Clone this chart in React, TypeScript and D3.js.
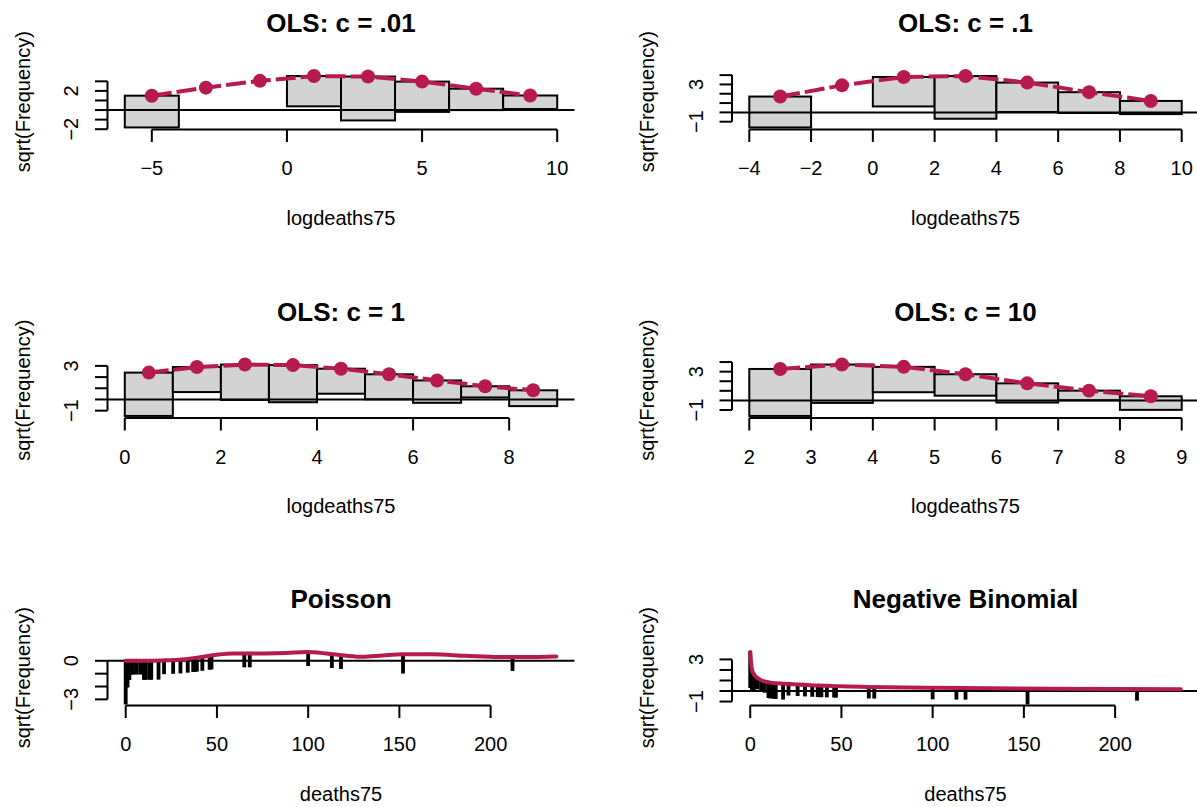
import React from "react";
import * as d3 from "d3";

// ---------- data ----------
// OLS panels: bin breaks, expected sqrt(frequency), observed frequency
const ols01Breaks = [-6, -4, -2, 0, 2, 4, 6, 8, 10];
const ols01Expected = [1.5, 2.34, 3.05, 3.55, 3.5, 2.97, 2.23, 1.52];
const ols01Observed = [11, 0, 0, 10, 21, 10, 5, 2];

const ols1Breaks = [-4, -2, 0, 2, 4, 6, 8, 10];
const ols1Expected = [1.7, 2.9, 3.8, 3.9, 3.2, 2.17, 1.23];
const ols1Observed = [11, 0, 10, 21, 10, 5, 2];

const olsOneBreaks = [0, 1, 2, 3, 4, 5, 6, 7, 8, 9];
const olsOneExpected = [2.4, 2.9, 3.12, 3.07, 2.75, 2.25, 1.7, 1.18, 0.82];
const olsOneObserved = [15, 5, 10, 11, 5, 5, 4, 1, 2];

const ols10Breaks = [2, 3, 4, 5, 6, 7, 8, 9];
const ols10Expected = [3.28, 3.74, 3.5, 2.73, 1.78, 1.02, 0.43];
const ols10Observed = [24, 16, 7, 5, 4, 1, 2];

// count panels: observed deaths75 values and their frequencies
const countValues = [0, 1, 2, 3, 4, 6, 8, 10, 11, 13, 14, 18, 21, 26, 30, 34, 37, 38, 39, 42, 46, 47, 65, 68, 100, 113, 118, 152, 212];
const countObserved = [11, 4, 2, 1, 1, 1, 1, 2, 2, 2, 2, 2, 1, 1, 1, 1, 1, 1, 1, 1, 1, 1, 1, 1, 1, 1, 1, 2, 1];
const countMax = 236;

// expected sqrt(frequency) curves, read at selected counts
const poisCurveX = [0, 10, 20, 31, 40, 50, 59, 77, 88, 99, 110, 121, 130, 141, 152, 168, 186, 205, 219, 236];
const poisCurveY = [0, 0.01, 0.03, 0.1, 0.26, 0.47, 0.57, 0.57, 0.6, 0.68, 0.57, 0.39, 0.31, 0.42, 0.5, 0.5, 0.39, 0.29, 0.29, 0.34];

const nbCurveX = [0, 1, 2, 3, 6, 11, 19, 37, 64, 101, 146, 201, 236];
const nbCurveY = [3.7, 2.0, 1.6, 1.38, 1.02, 0.8, 0.68, 0.52, 0.39, 0.3, 0.24, 0.19, 0.17];

// axis ticks
const ticks01X = [-5, 0, 5, 10];
const ticks1X = [-4, -2, 0, 2, 4, 6, 8, 10];
const ticksOneX = [0, 2, 4, 6, 8];
const ticks10X = [2, 3, 4, 5, 6, 7, 8, 9];
const ticksCountX = [0, 50, 100, 150, 200];

const ticks01Y = [-2, -1, 0, 1, 2, 3];
const labels01Y = [-2, 2];
const ticks1Y = [-1, 0, 1, 2, 3, 4];
const labels1Y = [-1, 3];
const ticksOneY = [-1, 0, 1, 2, 3];
const labelsOneY = [-1, 3];
const ticks10Y = [-1, 0, 1, 2, 3, 4];
const labels10Y = [-1, 3];
const ticksPoisY = [-3, -2, -1, 0];
const labelsPoisY = [-3, 0];
const ticksNbY = [-1, 0, 1, 2, 3];
const labelsNbY = [-1, 3];

// ---------- style ----------
const RED = "#B61A51";
const GRAY = "#D3D3D3";
const FONT = "'Liberation Sans', Arial, Helvetica, sans-serif";
const LW = 2;
const COLS: [number, number][] = [[107.5, 574.5], [732, 1199]];
const ROWS: [number, number][] = [[74, 129.5], [362.5, 418], [650, 705.5]];

function ext(lo: number, hi: number): [number, number] {
  const d = (hi - lo) * 0.04;
  return [lo - d, hi + d];
}

const fmt = (v: number) => (v < 0 ? "\u2212" + Math.abs(v) : String(v));

type Bar = { x0: number; x1: number; top: number; bottom: number };

function Frame(props: {
  col: number; row: number; title: string; xlabel: string;
  x: d3.ScaleLinear<number, number>; y: d3.ScaleLinear<number, number>;
  xTicks: number[]; yTicks: number[]; yLabels: number[];
  children: React.ReactNode;
}) {
  const { col, row, title, xlabel, x, y, xTicks, yTicks, yLabels } = props;
  const [L, R] = COLS[col];
  const [T, B] = ROWS[row];
  const cx = (L + R) / 2;
  const cy = (T + B) / 2;
  const tl = 12.5;
  return (
    <g>
      {props.children}
      {/* x axis */}
      <line x1={x(xTicks[0])} x2={x(xTicks[xTicks.length - 1])} y1={B} y2={B} stroke="black" strokeWidth={LW} />
      {xTicks.map((t) => (
        <g key={"xt" + t}>
          <line x1={x(t)} x2={x(t)} y1={B} y2={B + tl} stroke="black" strokeWidth={LW} />
          <text x={x(t)} y={B + 38.5} textAnchor="middle" dominantBaseline="central" fontSize={20} fontFamily={FONT}>{fmt(t)}</text>
        </g>
      ))}
      {/* y axis */}
      <line x1={L} x2={L} y1={y(yTicks[0])} y2={y(yTicks[yTicks.length - 1])} stroke="black" strokeWidth={LW} />
      {yTicks.map((t) => (
        <line key={"yt" + t} x1={L} x2={L - tl} y1={y(t)} y2={y(t)} stroke="black" strokeWidth={LW} />
      ))}
      {yLabels.map((t) => (
        <text key={"yl" + t} transform={`translate(${L - 36.5},${y(t)}) rotate(-90)`} textAnchor="middle" dominantBaseline="central" fontSize={20} fontFamily={FONT}>{fmt(t)}</text>
      ))}
      <text x={cx} y={T - 51} textAnchor="middle" dominantBaseline="central" fontSize={26} fontWeight="bold" fontFamily={FONT}>{title}</text>
      <text x={cx} y={B + 88} textAnchor="middle" dominantBaseline="central" fontSize={20} fontFamily={FONT}>{xlabel}</text>
      <text transform={`translate(${L - 85},${cy}) rotate(-90)`} textAnchor="middle" dominantBaseline="central" fontSize={20} fontFamily={FONT}>sqrt(Frequency)</text>
    </g>
  );
}

function OlsPanel(props: {
  col: number; row: number; title: string;
  breaks: number[]; expected: number[]; observed: number[];
  xTicks: number[]; yTicks: number[]; yLabels: number[];
}) {
  const { col, row, breaks, expected, observed } = props;
  const bars: Bar[] = expected.map((e, i) => ({
    x0: breaks[i], x1: breaks[i + 1], top: e, bottom: e - Math.sqrt(observed[i]),
  }));
  const xl = ext(breaks[0], breaks[breaks.length - 1]);
  const yl = ext(d3.min(bars, (b) => b.bottom)!, d3.max(bars, (b) => b.top)!);
  const x = d3.scaleLinear().domain(xl).range(COLS[col]);
  const y = d3.scaleLinear().domain(yl).range([ROWS[row][1], ROWS[row][0]]);
  const mids = expected.map((e, i) => ({ m: (breaks[i] + breaks[i + 1]) / 2, e }));
  const line = d3.line<{ m: number; e: number }>().x((d) => x(d.m)).y((d) => y(d.e));
  return (
    <Frame col={col} row={row} title={props.title} xlabel="logdeaths75" x={x} y={y}
      xTicks={props.xTicks} yTicks={props.yTicks} yLabels={props.yLabels}>
      {bars.map((b, i) => (
        <rect key={i} x={x(b.x0)} y={y(b.top)} width={x(b.x1) - x(b.x0)} height={Math.max(0, y(b.bottom) - y(b.top))}
          fill={GRAY} stroke="black" strokeWidth={LW} />
      ))}
      <line x1={COLS[col][0]} x2={COLS[col][1]} y1={y(0)} y2={y(0)} stroke="black" strokeWidth={LW} />
      <path d={line(mids)!} fill="none" stroke={RED} strokeWidth={4} strokeDasharray="20,5" />
      {mids.map((d, i) => (
        <circle key={i} cx={x(d.m)} cy={y(d.e)} r={7} fill={RED} />
      ))}
    </Frame>
  );
}

function CountPanel(props: {
  col: number; row: number; title: string; curveX: number[]; curveY: number[];
  yTicks: number[]; yLabels: number[];
}) {
  const { col, row, curveX, curveY } = props;
  const interp = (v: number) => {
    const i = Math.max(1, d3.bisectLeft(curveX, v));
    const j = Math.min(i, curveX.length - 1);
    const x0 = curveX[j - 1], x1 = curveX[j];
    const t = x1 === x0 ? 0 : (v - x0) / (x1 - x0);
    return curveY[j - 1] + t * (curveY[j] - curveY[j - 1]);
  };
  const bars: Bar[] = countValues.map((v, i) => {
    const top = interp(v);
    return { x0: v - 0.5, x1: v + 0.5, top, bottom: top - Math.sqrt(countObserved[i]) };
  });
  const xl = ext(-0.5, countMax + 0.5);
  const yl = ext(
    Math.min(d3.min(bars, (b) => b.bottom)!, d3.min(curveY)!),
    Math.max(d3.max(bars, (b) => b.top)!, d3.max(curveY)!)
  );
  const x = d3.scaleLinear().domain(xl).range(COLS[col]);
  const y = d3.scaleLinear().domain(yl).range([ROWS[row][1], ROWS[row][0]]);
  const pts = curveX.map((cxv, i) => [cxv, curveY[i]] as [number, number]);
  const line = d3.line<[number, number]>().x((d) => x(d[0])).y((d) => y(d[1])).curve(d3.curveMonotoneX);
  return (
    <Frame col={col} row={row} title={props.title} xlabel="deaths75" x={x} y={y}
      xTicks={ticksCountX} yTicks={props.yTicks} yLabels={props.yLabels}>
      {bars.map((b, i) => (
        <rect key={i} x={x(b.x0)} y={y(b.top)} width={x(b.x1) - x(b.x0)} height={Math.max(0, y(b.bottom) - y(b.top))}
          fill={GRAY} stroke="black" strokeWidth={LW} />
      ))}
      <line x1={COLS[col][0]} x2={COLS[col][1]} y1={y(0)} y2={y(0)} stroke="black" strokeWidth={LW} />
      <path d={line(pts)!} fill="none" stroke={RED} strokeWidth={4} strokeLinecap="round" />
    </Frame>
  );
}

export default function App() {
  return (
    <svg width={1197} height={807} style={{ position: "absolute", left: 0, top: 0, background: "white" }}>
      <rect x={0} y={0} width={1197} height={807} fill="white" />
      <OlsPanel col={0} row={0} title="OLS: c = .01" breaks={ols01Breaks} expected={ols01Expected} observed={ols01Observed}
        xTicks={ticks01X} yTicks={ticks01Y} yLabels={labels01Y} />
      <OlsPanel col={1} row={0} title="OLS: c = .1" breaks={ols1Breaks} expected={ols1Expected} observed={ols1Observed}
        xTicks={ticks1X} yTicks={ticks1Y} yLabels={labels1Y} />
      <OlsPanel col={0} row={1} title="OLS: c = 1" breaks={olsOneBreaks} expected={olsOneExpected} observed={olsOneObserved}
        xTicks={ticksOneX} yTicks={ticksOneY} yLabels={labelsOneY} />
      <OlsPanel col={1} row={1} title="OLS: c = 10" breaks={ols10Breaks} expected={ols10Expected} observed={ols10Observed}
        xTicks={ticks10X} yTicks={ticks10Y} yLabels={labels10Y} />
      <CountPanel col={0} row={2} title="Poisson" curveX={poisCurveX} curveY={poisCurveY} yTicks={ticksPoisY} yLabels={labelsPoisY} />
      <CountPanel col={1} row={2} title="Negative Binomial" curveX={nbCurveX} curveY={nbCurveY} yTicks={ticksNbY} yLabels={labelsNbY} />
    </svg>
  );
}
